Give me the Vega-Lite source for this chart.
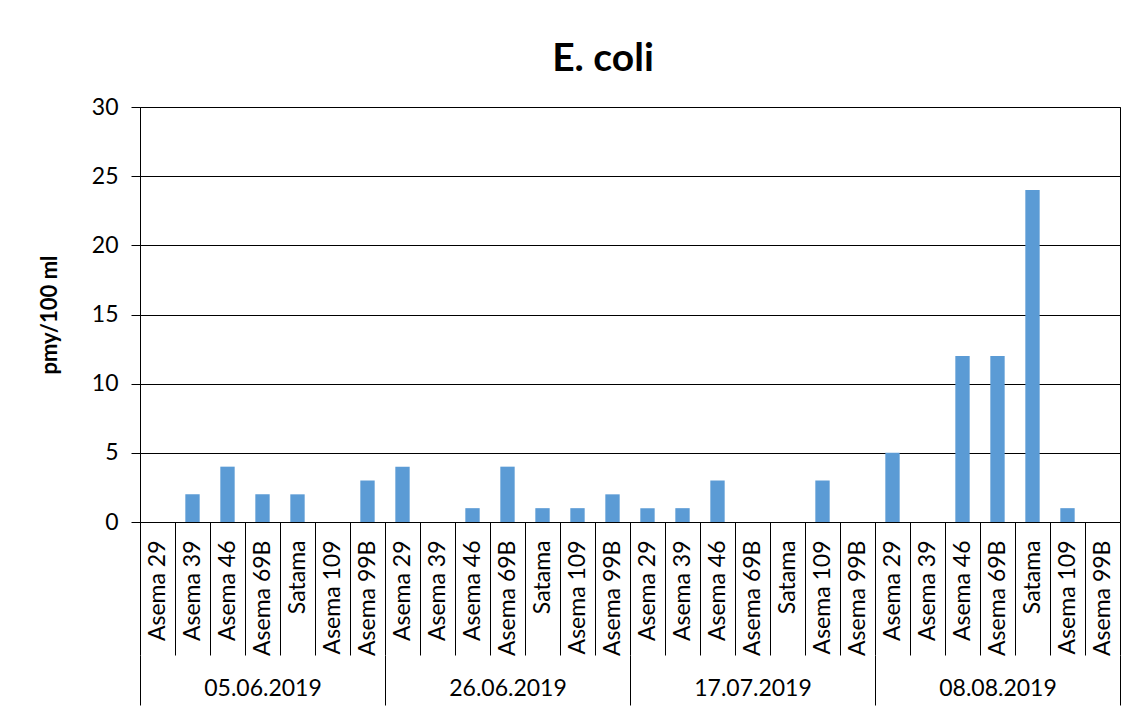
{
  "$schema": "https://vega.github.io/schema/vega-lite/v6.json",
  "width": 980,
  "height": 415,
  "autosize": {"type": "none"},
  "padding": {"left": 140, "top": 107, "right": 16, "bottom": 189},
  "background": "white",
  "config": {"view": {"stroke": "#000", "strokeWidth": 1}, "font": "Lato"},
  "title": {"text": "E. coli", "fontSize": 39, "font": "Lato", "fontWeight": "bold", "color": "#000", "anchor": "middle", "dx": -27, "offset": 17},
  "data": {"values": [
    {"date": "05.06.2019", "station": "Asema 29", "value": 0},
    {"date": "05.06.2019", "station": "Asema 39", "value": 2},
    {"date": "05.06.2019", "station": "Asema 46", "value": 4},
    {"date": "05.06.2019", "station": "Asema 69B", "value": 2},
    {"date": "05.06.2019", "station": "Satama", "value": 2},
    {"date": "05.06.2019", "station": "Asema 109", "value": 0},
    {"date": "05.06.2019", "station": "Asema 99B", "value": 3},
    {"date": "26.06.2019", "station": "Asema 29", "value": 4},
    {"date": "26.06.2019", "station": "Asema 39", "value": 0},
    {"date": "26.06.2019", "station": "Asema 46", "value": 1},
    {"date": "26.06.2019", "station": "Asema 69B", "value": 4},
    {"date": "26.06.2019", "station": "Satama", "value": 1},
    {"date": "26.06.2019", "station": "Asema 109", "value": 1},
    {"date": "26.06.2019", "station": "Asema 99B", "value": 2},
    {"date": "17.07.2019", "station": "Asema 29", "value": 1},
    {"date": "17.07.2019", "station": "Asema 39", "value": 1},
    {"date": "17.07.2019", "station": "Asema 46", "value": 3},
    {"date": "17.07.2019", "station": "Asema 69B", "value": 0},
    {"date": "17.07.2019", "station": "Satama", "value": 0},
    {"date": "17.07.2019", "station": "Asema 109", "value": 3},
    {"date": "17.07.2019", "station": "Asema 99B", "value": 0},
    {"date": "08.08.2019", "station": "Asema 29", "value": 5},
    {"date": "08.08.2019", "station": "Asema 39", "value": 0},
    {"date": "08.08.2019", "station": "Asema 46", "value": 12},
    {"date": "08.08.2019", "station": "Asema 69B", "value": 12},
    {"date": "08.08.2019", "station": "Satama", "value": 24},
    {"date": "08.08.2019", "station": "Asema 109", "value": 1},
    {"date": "08.08.2019", "station": "Asema 99B", "value": 0}
  ]},
  "transform": [{"calculate": "datum.date + '|' + datum.station", "as": "key"}],
  "layer": [
    {
      "mark": {"type": "bar", "color": "#5B9BD5", "width": {"band": 0.41}},
      "encoding": {
        "x": {
          "field": "key", "type": "nominal", "sort": null,
          "scale": {"type": "band", "paddingInner": 0, "paddingOuter": 0},
          "axis": {
            "title": null,
            "labelExpr": "split(datum.label, '|')[1]",
            "labelAngle": -90, "labelAlign": "right", "labelBaseline": "middle",
            "tickBand": "extent", "tickSize": 133, "labelPadding": -115,
            "tickColor": "#000", "domainColor": "#000",
            "labelFontSize": 23, "labelColor": "#000", "labelFont": "Lato"
          }
        },
        "y": {
          "field": "value", "type": "quantitative",
          "scale": {"domain": [0, 30]},
          "axis": {
            "title": "pmy/100 ml",
            "values": [0, 5, 10, 15, 20, 25, 30],
            "tickSize": 9, "labelPadding": 13,
            "gridColor": "#000", "tickColor": "#000", "domainColor": "#000",
            "labelFontSize": 23, "labelColor": "#000", "labelFont": "Lato",
            "titleFontSize": 22, "titleFontWeight": "bold", "titleFont": "Lato", "titleColor": "#000",
            "titlePadding": 30
          }
        }
      }
    },
    {
      "mark": {"type": "rule", "strokeOpacity": 0},
      "encoding": {
        "x": {
          "field": "date", "type": "nominal", "sort": null,
          "scale": {"type": "band", "paddingInner": 0, "paddingOuter": 0},
          "axis": {
            "orient": "bottom", "offset": 133, "title": null, "domain": false,
            "tickBand": "extent", "tickSize": 50, "tickColor": "#000",
            "labelAngle": 0, "labelAlign": "center", "labelBaseline": "middle", "labelPadding": -17,
            "labelFontSize": 23, "labelColor": "#000", "labelFont": "Lato"
          }
        }
      }
    }
  ],
  "resolve": {"scale": {"x": "independent"}, "axis": {"x": "independent"}}
}
